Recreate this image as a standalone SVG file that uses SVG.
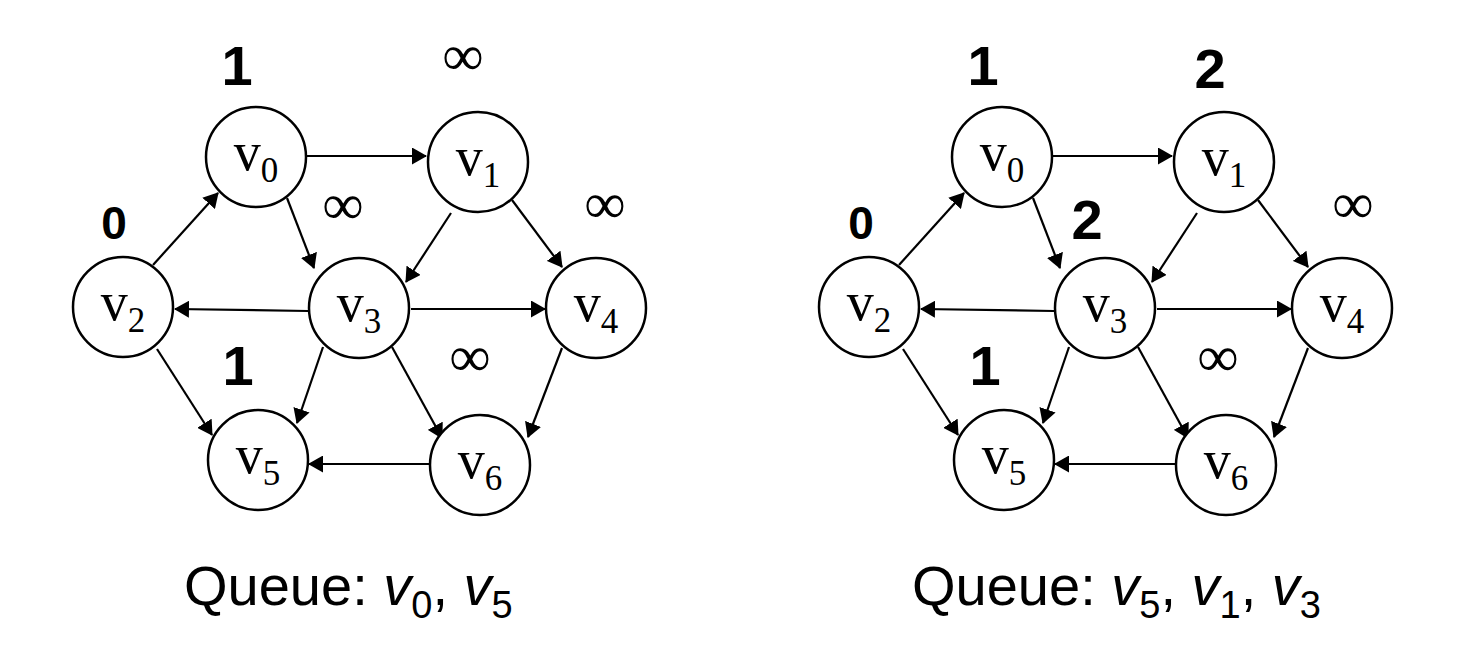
<svg xmlns="http://www.w3.org/2000/svg" width="1462" height="658" viewBox="0 0 1462 658">
  <defs>
    <marker id="ah" markerUnits="userSpaceOnUse" markerWidth="15" markerHeight="17" refX="14" refY="8.5" orient="auto" viewBox="0 0 15 17">
      <path d="M0,0 L15,8.5 L0,17 z" fill="#000"/>
    </marker>
  </defs>
  <style>
    .node circle { fill: #fff; stroke: #000; stroke-width: 2.5; }
    .vl { font-family: "Liberation Serif", "Times New Roman", serif; font-size: 54px; fill: #000; text-anchor: middle; }
    .sub { font-size: 35px; }
    .dist { font-family: "Liberation Sans", Arial, sans-serif; font-weight: bold; font-size: 56px; text-anchor: middle; fill: #000; }
    .dist0 { font-size: 46px; }
    .inf { font-family: "Liberation Serif", "Times New Roman", serif; font-size: 58px; text-anchor: middle; fill: #000; }
    .edges line { stroke: #000; stroke-width: 2.2; fill: none; marker-end: url(#ah); }
    .queue { font-family: "Liberation Sans", Arial, sans-serif; font-size: 56px; fill: #000; }
    .qsub { font-size: 38px; }
    .it { font-style: italic; }
  </style>

  <!-- Left graph -->
  <g id="left-graph">
    <g id="left-edges" class="edges">
      <line x1="307" y1="156" x2="426" y2="156"/>
      <line x1="153" y1="265" x2="218" y2="193"/>
      <line x1="287" y1="198" x2="314" y2="268"/>
      <line x1="451" y1="213" x2="406" y2="282"/>
      <line x1="512" y1="200" x2="562" y2="267"/>
      <line x1="308" y1="311" x2="175" y2="309"/>
      <line x1="411" y1="309" x2="545" y2="309"/>
      <line x1="157" y1="349" x2="212" y2="435"/>
      <line x1="323" y1="347" x2="297" y2="423"/>
      <line x1="392" y1="347" x2="442" y2="438"/>
      <line x1="562" y1="348" x2="528" y2="437"/>
      <line x1="429" y1="464" x2="309" y2="464"/>
    </g>
    <g id="L-v0" class="node"><circle cx="256" cy="157" r="50"/><text class="vl" x="256" y="170">v<tspan class="sub" dy="12">0</tspan></text></g>
    <g id="L-v1" class="node"><circle cx="478" cy="162" r="50"/><text class="vl" x="478" y="175">v<tspan class="sub" dy="12">1</tspan></text></g>
    <g id="L-v2" class="node"><circle cx="123" cy="307" r="50"/><text class="vl" x="123" y="320">v<tspan class="sub" dy="12">2</tspan></text></g>
    <g id="L-v3" class="node"><circle cx="359" cy="308" r="50"/><text class="vl" x="359" y="321">v<tspan class="sub" dy="12">3</tspan></text></g>
    <g id="L-v4" class="node"><circle cx="596" cy="308" r="50"/><text class="vl" x="596" y="321">v<tspan class="sub" dy="12">4</tspan></text></g>
    <g id="L-v5" class="node"><circle cx="258" cy="460" r="50"/><text class="vl" x="258" y="473">v<tspan class="sub" dy="12">5</tspan></text></g>
    <g id="L-v6" class="node"><circle cx="480" cy="465" r="50"/><text class="vl" x="480" y="478">v<tspan class="sub" dy="12">6</tspan></text></g>
    <g id="left-labels">
      <text class="dist" x="237" y="85">1</text>
      <text class="inf" x="463" y="75">∞</text>
      <text class="dist dist0" x="114" y="239">0</text>
      <text class="inf" x="343" y="224">∞</text>
      <text class="inf" x="605" y="223">∞</text>
      <text class="dist" x="238" y="385">1</text>
      <text class="inf" x="470" y="376">∞</text>
    </g>
    <text class="queue" x="184" y="605">Queue: <tspan class="it">v</tspan><tspan class="qsub" dy="13">0</tspan><tspan dy="-13">, </tspan><tspan class="it">v</tspan><tspan class="qsub" dy="13">5</tspan></text>
  </g>

  <!-- Right graph -->
  <g id="right-graph" transform="translate(746,0)">
    <g id="right-edges" class="edges">
      <line x1="307" y1="156" x2="426" y2="156"/>
      <line x1="153" y1="265" x2="218" y2="193"/>
      <line x1="287" y1="198" x2="314" y2="268"/>
      <line x1="451" y1="213" x2="406" y2="282"/>
      <line x1="512" y1="200" x2="562" y2="267"/>
      <line x1="308" y1="311" x2="175" y2="309"/>
      <line x1="411" y1="309" x2="545" y2="309"/>
      <line x1="157" y1="349" x2="212" y2="435"/>
      <line x1="323" y1="347" x2="297" y2="423"/>
      <line x1="392" y1="347" x2="442" y2="438"/>
      <line x1="562" y1="348" x2="528" y2="437"/>
      <line x1="429" y1="464" x2="309" y2="464"/>
    </g>
    <g id="R-v0" class="node"><circle cx="256" cy="157" r="50"/><text class="vl" x="256" y="170">v<tspan class="sub" dy="12">0</tspan></text></g>
    <g id="R-v1" class="node"><circle cx="478" cy="162" r="50"/><text class="vl" x="478" y="175">v<tspan class="sub" dy="12">1</tspan></text></g>
    <g id="R-v2" class="node"><circle cx="123" cy="307" r="50"/><text class="vl" x="123" y="320">v<tspan class="sub" dy="12">2</tspan></text></g>
    <g id="R-v3" class="node"><circle cx="359" cy="308" r="50"/><text class="vl" x="359" y="321">v<tspan class="sub" dy="12">3</tspan></text></g>
    <g id="R-v4" class="node"><circle cx="596" cy="308" r="50"/><text class="vl" x="596" y="321">v<tspan class="sub" dy="12">4</tspan></text></g>
    <g id="R-v5" class="node"><circle cx="258" cy="460" r="50"/><text class="vl" x="258" y="473">v<tspan class="sub" dy="12">5</tspan></text></g>
    <g id="R-v6" class="node"><circle cx="480" cy="465" r="50"/><text class="vl" x="480" y="478">v<tspan class="sub" dy="12">6</tspan></text></g>
    <g id="right-labels">
      <text class="dist" x="237" y="85">1</text>
      <text class="dist" x="464" y="88">2</text>
      <text class="dist dist0" x="115" y="239">0</text>
      <text class="dist" x="341" y="239">2</text>
      <text class="inf" x="607" y="223">∞</text>
      <text class="dist" x="239" y="385">1</text>
      <text class="inf" x="472" y="376">∞</text>
    </g>
    <text class="queue" x="166" y="605">Queue: <tspan class="it">v</tspan><tspan class="qsub" dy="13">5</tspan><tspan dy="-13">, </tspan><tspan class="it">v</tspan><tspan class="qsub" dy="13">1</tspan><tspan dy="-13">, </tspan><tspan class="it">v</tspan><tspan class="qsub" dy="13">3</tspan></text>
  </g>
</svg>
